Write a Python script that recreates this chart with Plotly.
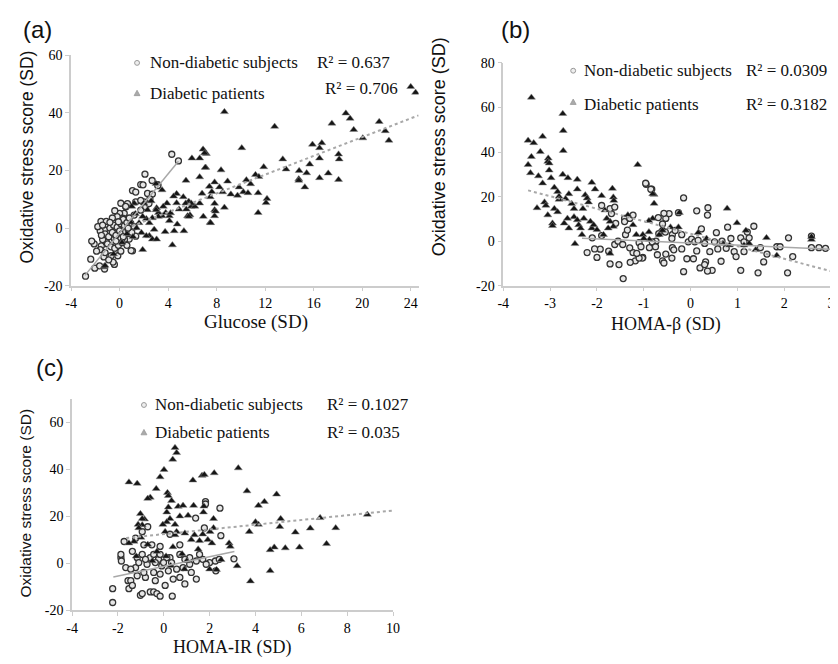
import plotly.graph_objects as go

# ---------------- DATA ----------------
# Panel (a): Glucose (SD) vs oxidative stress score (SD)
a_nd_x = [-2.81, -2.38, -2.05, -1.65, -1.24, -0.43, -1.51, -1.1, -0.7, -0.15, 1.06, -1.1, -0.43, 0.25, 0.79, 1.33,
          -1.24, -1.54, -1.1, -0.7, -0.15, 0.38, 0.65, 0.92, 0.38, 0.0, 0.52, 1.2, 1.74, 2.15, 2.42, 1.33, 2.0, 1.74,
          1.06, 1.33, 1.74, 1.93, 2.09, 2.68, 3.15, 3.15, 2.3, 2.7, 2.5, 4.3, 4.85, 0.65, 0.25, 0.95, -0.54,
          -1.6, -1.8, -1.4, -1.2, -0.9, -0.8, -0.6, -0.5, -0.3, -0.2, 0.0, 0.1, 0.2, 0.3, 0.4, 0.5, 0.6, 0.7, 0.8, 0.9,
          -1.0, -0.7, -0.4, -0.1, 0.1, -1.3, -1.6, -0.9, 0.4, 0.6, -2.1, -1.9, -0.4, -0.2, -0.6, 0.1, 0.5, 1.0, 1.2,
          -1.4, -2.3, -1.2, -0.8, -0.3, 0.3, 0.7, -1.5, -0.1, 0.2]
a_nd_y = [-16.7, -10.8, -13.9, -13.1, -14.2, -12.6, -6.2, -9.6, -9.6, -9.6, -7.9, -4.8, -3.8, -5.0, -3.8, -2.8,
          -0.6, 2.3, 2.3, 0.5, -1.2, -0.1, 2.8, 1.6, 5.1, 5.1, 7.4, 4.5, 6.2, 7.4, 8.5, 9.1, 9.1, 9.6,
          13.0, 12.5, 15.1, 15.0, 18.7, 16.5, 15.1, 14.7, 12.0, 11.8, 10.1, 25.6, 23.3, 8.5, 3.4, -7.8, -11.8,
          -1.0, 0.5, 1.0, -2.0, -3.0, 0.0, -1.5, 1.0, -2.5, 0.3, -1.0, 1.5, -2.0, 3.0, 0.8, -1.2, 1.9, -0.5, 3.5, -2.0,
          -5.5, -6.5, -7.0, -6.0, -8.0, -10.0, -7.5, -11.0, -4.0, -6.0, -5.5, -8.0, 6.0, 4.0, 3.5, 8.6, 7.5, -1.5, 0.5,
          -4.0, -4.5, -8.5, 2.0, -4.5, -3.0, 0.0, -2.5, 2.2, -5.0]
a_d_x = [8.64, 12.78, 18.65, 19.0, 17.5, 21.4, 21.9, 19.3, 20.05, 22.2, 10.07, 15.9, 16.67, 16.48, 18.05, 18.1, 16.48,
         13.45, 11.88, 13.72, 15.67, 14.8, 15.42, 14.77, 14.77, 15.27, 16.48, 17.2, 18.05, 7.15, 7.1, 8.36, 11.2,
         11.48, 10.45, 10.8, 7.83, 8.9, 9.85, 7.4, 8.23, 8.5, 9.17, 9.72, 10.2, 10.58, 11.42, 12.15, 12.07, 11.42,
         8.64, 7.47, 7.6, 7.83, 7.83, 7.83, 7.47, 24.0, 24.4,
         5.47, 5.96, 6.6, 6.88, 7.0, 7.06, 4.7, 4.45, 5.25, 5.7, 4.7, 3.9, 5.45, 4.9, 5.5, 5.9, 5.6, 5.8, 3.6, 3.05,
         3.2, 3.5, 3.8, 4.1, 4.2, 4.1, 4.75, 4.5, 5.3, 3.75, 2.85, 2.45, 2.2, 2.7, 3.2, 3.0, 2.3, 1.9, 1.6, 2.45, 2.7,
         3.05, 1.9, 4.35, 3.5, 2.6, 3.0, 2.0, 1.2, 1.0, 1.4, 1.8, 2.2, 6.8, 6.6, 7.9, 7.5, 6.2, 5.9, 6.6, 5.7, 6.9,
         -1.3, -1.2, -0.5, 0.2, 0.6, 0.9, 1.1, 1.3]
a_d_y = [40.3, 35.2, 39.8, 38.0, 36.3, 36.9, 33.7, 34.1, 31.2, 30.4, 27.8, 29.0, 29.5, 27.8, 25.6, 23.9, 24.2,
         23.9, 21.2, 20.4, 22.1, 19.9, 19.1, 17.0, 16.5, 14.2, 17.4, 19.0, 16.8, 25.8, 21.0, 20.1, 18.5,
         17.8, 16.7, 15.3, 15.9, 16.2, 14.2, 14.4, 14.2, 12.5, 11.7, 11.3, 12.5, 12.2, 12.2, 10.2, 8.75, 5.3,
         7.15, 10.8, 12.6, 8.5, 6.3, 4.2, 1.9, 49.0, 47.0,
         16.5, 24.2, 24.2, 27.3, 26.0, 21.0, 11.9, 11.0, 10.8, 9.2, 8.7, 8.6, 8.6, 6.5, 6.5, 7.5, 4.2, 4.5, 7.5, 7.0,
         5.3, 4.2, 5.3, 4.2, 5.2, 2.5, 1.3, -1.0, -1.0, -1.3, -0.5, 1.8, 3.2, 3.5, 4.0, 6.3, 6.3, 4.0, 1.8, -2.7, -3.9,
         -3.9, -7.5, -5.9, 13.2, 9.4, 15.4, 8.6, 8.6, 7.5, 0.0, -1.6, -2.7, 12.0, 17.7, 5.8, 1.8, 7.5, 8.6, 8.6, 4.0, 4.0,
         -13.5, -13.0, -9.0, -5.0, -2.0, 2.0, -3.0, 5.0]
a_nd_fit_x = [-2.86, 4.85]
a_nd_fit_y = [-16.4, 23.2]
a_d_fit_x = [1.0, 24.65]
a_d_fit_y = [0.65, 39.1]
a_xticks = [-4, 0, 4, 8, 12, 16, 20, 24]
a_yticks = [-20, 0, 20, 40, 60]

# Panel (b): HOMA-beta (SD)
b_nd_x = [-2.21, -2.0, -1.93, -1.72, -1.53, -1.44, -1.62, -1.69, -1.72, -1.62, -1.9, -1.39, -1.41, -1.41, -1.3, -1.23,
          -1.23, -1.18, -1.29, -1.02, -0.95, -0.83, -0.88, -1.1, -0.74, -0.53, -0.46, -0.39, -0.39, -0.53, -0.6,
          -0.96, -0.85, -0.15, -0.26, 0.13, 0.37, 0.36, 0.23, -0.57, -0.69, -0.6, -0.54, -0.4, -0.19, -0.05, 0.02,
          0.09, 0.16, 0.3, 0.51, 0.67, 0.86, 1.07, 1.14, 1.35, 1.21, 1.25, 1.49, 1.63, 1.56, 1.84, 1.91, 2.09, 2.18,
          2.07, 2.58, 2.58, 2.74, 2.88, 1.44, 1.07, 0.65, 0.46, 0.36, 0.2, -0.15, -0.08, 0.06, 0.32, 0.3, -0.57,
          -1.03, -1.1, -0.71, -0.4, -0.36, -0.19, 0.13, 0.41, 0.58, 0.76, 0.93, 0.97, 1.14, -0.33, -0.68, -0.82,
          -0.75, -1.06, 0.79, 0.55, -2.1, -2.05, -1.75, -1.55, -1.35, -1.45, -1.3, -1.15, -1.9, -1.6]
b_nd_y = [-5.1, -7.3, -3.6, -10.2, -10.5, -16.8, -1.5, 12.4, 14.6, 15.3, 16.0, 2.9, 10.2, 8.8, 10.2, 11.7,
          -5.1, -8.8, -9.5, -7.3, 25.5, 23.3, -2.9, -0.7, 0.0, 10.2, 12.4, 2.9, -2.9, -5.8, -8.8,
          26.0, 23.3, 19.4, 12.8, 13.6, 15.0, 11.7, 5.5, 12.5, 10.6, 7.7, 4.1, 1.2, 2.9, -0.3, 0.9,
          -0.3, 0.4, -1.0, -0.3, 0.0, 1.2, 1.5, -0.3, 6.7, 4.1, 1.5, -2.9, -5.8, -9.3, -2.5, -2.5, 1.5, -6.9,
          -14.2, 2.3, -2.9, -2.9, -3.2, -14.2, -13.1, -9.0, -13.1, -13.4, -12.0, -13.7, -7.9, -7.9, -9.3, -10.5, -9.8,
          -7.6, -7.6, -6.1, -7.6, -3.9, -3.5, -4.4, -4.7, -3.5, -3.2, -4.7, -6.9, -4.7, 4.8, 3.4, -0.3,
          -2.5, -2.5, 6.3, 3.8, 1.5, -3.5, -4.5, 0.0, 5.0, -1.5, -3.0, -5.5, 2.5, 8.0]
b_d_x = [-3.40, -3.47, -3.35, -3.40, -3.47, -3.42, -3.16, -3.21, -3.04, -3.05, -3.02, -3.02, -2.98, -3.25, -3.16,
         -3.28, -3.12, -3.09, -3.05, -2.95, -2.95, -2.91, -2.84, -2.81, -2.81, -2.91, -2.84, -2.70, -2.72, -2.72,
         -2.73, -2.62, -2.73, -2.42, -2.42, -2.6, -2.67, -2.54, -2.49, -2.49, -2.63, -2.6, -2.42, -2.39, -2.35,
         -2.47, -2.32, -2.30, -2.28, -2.25, -2.21, -2.18, -2.11, -2.04, -2.14, -2.11, -2.07, -2.0, -1.9, -1.83,
         -1.79, -1.67, -1.65, -1.64, -1.72, -1.65, -1.72, -1.86, -1.76, -1.34, -1.13, -1.23, -1.16, -0.78, -0.81,
         -0.81, -1.02, -0.88, -0.67, -0.6, -0.78, -0.89, -0.24, 0.78, 0.99, 1.18, 1.62, 1.84, 2.58, 1.39, -0.26,
         -0.43, -0.6, 0.16, 0.34, 0.69, 0.83, 1.14, 1.25, -1.0, -0.89, 2.58]
b_d_y = [64.5, 45.2, 44.1, 37.9, 34.3, 30.6, 47.0, 40.1, 37.2, 35.7, 35.0, 31.8, 28.4, 29.2, 26.0,
         14.9, 17.5, 16.0, 11.7, 8.0, 6.9, 24.1, 22.2, 20.1, 18.7, 14.6, 13.1, 8.0, 49.6, 40.6,
         29.9, 28.4, 57.2, 27.7, 23.3, 21.2, 19.0, 16.8, 14.6, 10.9, 10.2, 5.8, 9.5, 7.3, 5.8,
         -1.2, 2.9, 14.6, 10.2, 20.7, 19.3, 17.5, 26.3, 23.3, 8.8, 5.8, 7.3, 5.1, 20.4, 13.9,
         10.2, 23.6, 19.7, 18.2, 8.8, 6.6, -5.5, 2.9, 5.8, 11.7, 34.3, 7.3, 2.9, 20.9, 21.2,
         10.2, 2.9, 0.7, 2.9, 5.8, 16.9, 9.2, 12.8, 14.7, 8.2, 4.8, 1.5, -6.4, 0.7, -3.9, 6.3,
         6.3, 4.8, 3.8, 1.2, -1.0, -1.8, -1.8, -1.0, 1.2, 4.1, 2.0]
b_nd_fit_x = [-2.32, 3.0]
b_nd_fit_y = [1.3, -3.6]
b_d_fit_x = [-3.47, 3.0]
b_d_fit_y = [22.8, -13.5]
b_xticks = [-4, -3, -2, -1, 0, 1, 2, 3]
b_yticks = [-20, 0, 20, 40, 60, 80]

# Panel (c): HOMA-IR (SD)
c_nd_x = [-2.23, -2.23, -1.87, -1.85, -1.73, -1.66, -1.56, -1.52, -1.44, -1.37, -1.23, -1.02, -0.94, -0.8, -0.59,
          -0.44, -0.3, -0.16, -0.37, 0.06, 0.37, -0.73, -0.59, -0.44, -0.23, -0.09, 0.2, 0.56, 0.7, 0.84, 1.2, 1.13,
          1.42, 1.7, 2.0, 2.25, 2.27, 1.39, 1.82, 1.82, 2.45, 1.77, 2.49, 3.06, -0.7, -0.94, 0.27, 0.7, 0.27, -1.23,
          -0.87, -0.52, -0.16, 0.7, 1.13, -0.44, -0.87, -1.16, -1.44, -0.16, 0.41, -1.16, -0.94, 0.92, 1.42, -1.87,
          -1.37, -0.16, 0.13, -0.01, 0.34, -0.37, -0.8, -1.09, 0.92, 1.56, 1.85, 2.42]
c_nd_y = [-10.8, -16.7, 2.4, 1.0, 9.3, -1.8, -7.4, -10.8, -7.4, -9.4, -1.8, -13.6, -12.9, -6.0, -12.2,
          -12.2, -12.9, -14.0, -7.4, -9.4, -14.0, -0.4, 2.4, 3.8, 1.7, -1.1, -3.2, -2.5, -6.0, -1.8, -3.9, -0.4,
          1.0, 1.7, 0.3, 1.0, -3.2, 19.3, 26.3, 25.3, 23.5, 15.1, 11.8, 1.9, 15.6, 13.5, 12.4, 3.8, 2.4, 10.7,
          7.9, 7.9, 7.2, 7.9, 2.4, -3.9, -3.9, -5.3, -2.5, -4.6, -6.7, 2.4, 3.8, -8.8, -6.7, 3.8,
          5.1, 3.8, 2.4, 0.3, 0.3, 0.3, 1.7, 0.3, 1.7, 3.8, -0.4, 1.7]
c_d_x = [0.49, 0.56, 0.39, 0.01, -0.16, -0.33, -0.59, -0.7, -1.52, -1.16, 0.16, 0.2, 0.34, 0.63, 0.84, 1.27, 1.67,
         1.77, 2.2, 3.25, 3.63, 1.3, 1.75, 1.73, 2.17, 2.17, 1.06, 0.7, 0.13, 0.2, -1.02, -0.84, -0.94, -1.12, -1.09,
         0.27, 0.13, -0.04, 0.49, 0.56, 0.92, 0.49, 0.06, 1.34, 1.7, 2.02, 1.56, 1.92, 2.1, 2.85, 2.9, 3.2, 3.78,
         3.73, 4.0, 4.13, 4.13, 4.39, 4.92, 5.1, 5.06, 5.3, 4.82, 4.64, 4.64, 5.74, 5.92, 6.39, 6.82, 7.1, 7.5, 8.88,
         -1.3, -1.52, -0.94, -1.0, -0.7, -0.3, 0.1, 0.4, 0.8, 1.2, 1.5, 2.0, 2.3, 0.9, -1.2, -0.5, 0.3, 1.0, 2.5]
c_d_y = [49.3, 47.1, 44.3, 39.9, 36.8, 31.8, 28.1, 27.6, 34.6, 34.0, 30.1, 28.8, 26.7, 24.2, 24.6, 35.4, 37.4,
         37.8, 38.5, 40.6, 30.8, 24.6, 24.3, 21.8, 19.0, 15.1, 20.4, 20.1, 21.8, 23.9, 21.1, 18.8, 16.3, 16.5, 15.1,
         19.0, 17.6, 16.5, 16.5, 13.5, 12.8, 12.1, 13.5, 12.1, 12.4, 13.5, 9.6, 10.0, 8.6, 8.6, 7.2, -1.1, -7.6,
         13.5, 17.6, 16.5, 24.6, 26.3, 29.4, 19.0, 15.6, 6.5, 6.8, 5.7, -3.2, 13.2, 6.8, 14.9, 19.4, 8.3, 15.1, 20.8,
         9.3, 8.6, 19.0, 11.0, 8.0, 5.0, 3.0, 7.0, 4.0, 10.0, 6.0, -2.5, -2.7, -2.5, 3.0, 1.0, -1.0, 1.0, 1.5]
c_nd_fit_x = [-2.2, 3.08]
c_nd_fit_y = [-5.8, 5.0]
c_d_fit_x = [-1.64, 10.0]
c_d_fit_y = [10.8, 22.5]
c_xticks = [-4, -2, 0, 2, 4, 6, 8, 10]
c_yticks = [-20, 0, 20, 40, 60]

panel_labels = ["(a)", "(b)", "(c)"]
x_titles = ["Glucose (SD)", "HOMA-β (SD)", "HOMA-IR (SD)"]
y_title = "Oxidative stress score (SD)"
legend_nd = "Non-diabetic subjects"
legend_d = "Diabetic patients"
r2_a = ["R² = 0.637", "R² = 0.706"]
r2_b = ["R² = 0.0309", "R² = 0.3182"]
r2_c = ["R² = 0.1027", "R² = 0.035"]

# ---------------- FIGURE ----------------
W, H = 838, 664
OFF = 8  # page body margin of the html page
def px(x):
    return (x - OFF) / W
def py(y):
    return 1 - (y - OFF) / H

fig = go.Figure()

nd_marker = dict(symbol="circle", size=6, color="#e6e6e6", line=dict(color="#333333", width=1.3))
d_marker = dict(symbol="triangle-up", size=7, color="#151515", line=dict(color="#888888", width=0.5))

panels = [
    ("x", "y", a_nd_x, a_nd_y, a_d_x, a_d_y, a_nd_fit_x, a_nd_fit_y, a_d_fit_x, a_d_fit_y),
    ("x2", "y2", b_nd_x, b_nd_y, b_d_x, b_d_y, b_nd_fit_x, b_nd_fit_y, b_d_fit_x, b_d_fit_y),
    ("x3", "y3", c_nd_x, c_nd_y, c_d_x, c_d_y, c_nd_fit_x, c_nd_fit_y, c_d_fit_x, c_d_fit_y),
]
for xa, ya, ndx, ndy, dx, dy, nfx, nfy, dfx, dfy in panels:
    fig.add_trace(go.Scatter(x=ndx, y=ndy, mode="markers", marker=nd_marker, xaxis=xa, yaxis=ya, showlegend=False))
    fig.add_trace(go.Scatter(x=dx, y=dy, mode="markers", marker=d_marker, xaxis=xa, yaxis=ya, showlegend=False))
    fig.add_trace(go.Scatter(x=nfx, y=nfy, mode="lines", line=dict(color="#a8a8a8", width=1.5),
                             xaxis=xa, yaxis=ya, showlegend=False))
    fig.add_trace(go.Scatter(x=dfx, y=dfy, mode="lines", line=dict(color="#a8a8a8", width=2, dash="dot"),
                             xaxis=xa, yaxis=ya, showlegend=False))

tickfont = dict(family="Liberation Serif", size=14, color="#000000")
def axis(domain, rng, ticks, anchor):
    return dict(domain=domain, range=rng, tickmode="array", tickvals=ticks, ticktext=[str(t) for t in ticks],
                anchor=anchor, showgrid=False, zeroline=False, showline=True, linecolor="#cccccc", linewidth=1.5,
                ticks="outside", ticklen=4, tickcolor="#cccccc", tickwidth=1, tickfont=tickfont)

fig.update_layout(
    width=W, height=H, margin=dict(l=0, r=0, t=0, b=0),
    paper_bgcolor="white", plot_bgcolor="white",
    xaxis=axis([px(66), px(419)], [-4, 24.65], a_xticks, "y"),
    yaxis=axis([py(285), py(49)], [-20, 60], a_yticks, "x"),
    xaxis2=axis([px(505), px(838)], [-4, 3], b_xticks, "y2"),
    yaxis2=axis([py(285), py(57)], [-20, 80], b_yticks, "x2"),
    xaxis3=axis([px(67), px(393)], [-4, 10], c_xticks, "y3"),
    yaxis3=axis([py(617), py(401)], [-20, 70], c_yticks, "x3"),
)

ann = []
def text(x, y, s, size, family="Liberation Serif", xanchor="left", angle=0):
    ann.append(dict(x=px(x), y=py(y), xref="paper", yref="paper", text=s, showarrow=False,
                    xanchor=xanchor, yanchor="middle", textangle=angle, borderpad=0,
                    font=dict(family=family, size=size, color="#111111")))

# panel labels
text(16, 23, panel_labels[0], 24, "Liberation Sans")
text(502, 23, panel_labels[1], 24, "Liberation Sans")
text(29, 369, panel_labels[2], 24, "Liberation Sans")
# axis titles
text(254, 322, x_titles[0], 19, xanchor="center")
text(670, 325, x_titles[1], 18, xanchor="center")
text(230, 655, x_titles[2], 18, xanchor="center")
text(21, 153, y_title, 17.5, "Liberation Sans", xanchor="center", angle=-90)
text(440, 143, y_title, 18, "Liberation Sans", xanchor="center", angle=-90)
text(20, 507, y_title, 15.5, "Liberation Sans", xanchor="center", angle=-90)
# legends + R2
legend_pos = [((145, 57), (145, 88), r2_a, (315, 57), (323, 83), 17, (133, 57), (133, 88)),
              ((586, 65), (586, 100), r2_b, (751, 65), (751, 100), 17, (576, 65), (576, 97)),
              ((150, 407), (150, 435), r2_c, (325, 407), (325, 435), 17, (140, 407), (140, 435))]
shapes = []
for (n_xy, d_xy, r2, r1_xy, r2_xy, fs, cm, tm) in legend_pos:
    text(n_xy[0], n_xy[1], legend_nd, fs)
    text(d_xy[0], d_xy[1], legend_d, fs)
    text(r1_xy[0], r1_xy[1], r2[0], fs)
    text(r2_xy[0], r2_xy[1], r2[1], fs)
    cx, cy = cm
    shapes.append(dict(type="circle", xref="paper", yref="paper", x0=px(cx - 2.5), x1=px(cx + 2.5),
                       y0=py(cy + 2.5), y1=py(cy - 2.5), line=dict(color="#999999", width=1), fillcolor="#eeeeee"))
    tx, ty = tm
    shapes.append(dict(type="path", xref="paper", yref="paper",
                       path=f"M {px(tx-3)} {py(ty+2.5)} L {px(tx+3)} {py(ty+2.5)} L {px(tx)} {py(ty-3)} Z",
                       line=dict(color="#999999", width=0.8), fillcolor="#aaaaaa"))

fig.update_layout(annotations=ann, shapes=shapes)
fig.write_html("out.html")
